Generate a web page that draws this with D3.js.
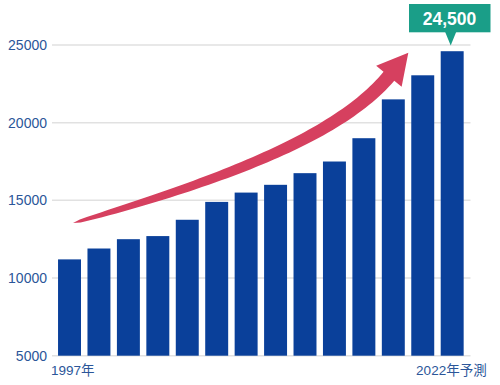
<!DOCTYPE html>
<html>
<head>
<meta charset="utf-8">
<script src="https://cdn.jsdelivr.net/npm/d3@7"></script>
<style>
body { margin: 0; background: #fff; }
text { font-family: "Liberation Sans", Arial, "Noto Sans CJK JP", sans-serif; }
</style>
</head>
<body>
<script>

var barValues = [11200, 11900, 12500, 12700, 13750, 14900, 15500, 16000, 16750, 17500, 19000, 21500, 23050, 24600];
var xLabels = ["1997年", "2022年予測"];
var yTicks = [5000, 10000, 15000, 20000, 25000];
var calloutText = "24,500";
// trend arrow, given as [bar index, value]: tail, two control points, end of shaft, tip
var arrowPoints = [[0.12, 13540], [5.0, 16180], [9.1, 19040], [10.85, 22985], [11.51, 24505]];

var width = 500;
var height = 385;

var svg = d3.select("body")
.append("svg")
.attr("width", width)
.attr("height", height);

var xScale = d3.scaleBand()
	.domain(d3.range(barValues.length))
	.range([54.8, 466.9])
	.paddingInner(0.22)
	.paddingOuter(0.11);

var yScale = d3.scaleLinear().domain([5000, 25000]).range([355.7, 45]);

// bar index -> centre of that bar, used for the arrow
var centreScale = d3.scaleLinear()
	.domain([0, barValues.length - 1])
	.range([xScale(0) + xScale.bandwidth() / 2, xScale(barValues.length - 1) + xScale.bandwidth() / 2]);

// gridlines
svg.selectAll(".grid")
	.data(yTicks)
	.enter()
	.append("line")
	.attr("x1", 52)
	.attr("x2", 470.5)
	.attr("y1", d => yScale(d))
	.attr("y2", d => yScale(d))
	.attr("stroke", "#e1e1e1")
	.attr("stroke-width", 1.5);

svg.selectAll(".ylabel")
	.data(yTicks)
	.enter()
	.append("text")
	.attr("x", 47)
	.attr("y", d => yScale(d))
	.attr("dy", "0.36em")
	.attr("text-anchor", "end")
	.attr("font-size", 14)
	.attr("fill", "#2b5699")
	.text(d => d);

svg.selectAll(".bar")
	.data(barValues)
	.enter()
	.append("rect")
	.attr("x", (d, i) => xScale(i))
	.attr("y", d => yScale(d))
	.attr("width", xScale.bandwidth())
	.attr("height", d => yScale(5000) - yScale(d))
	.attr("fill", "#0a409a");

// x labels, first and last only
svg.append("text")
	.attr("x", xScale(0) - 7)
	.attr("y", 375)
	.attr("font-size", 13.5)
	.attr("fill", "#2b5699")
	.text(xLabels[0]);

svg.append("text")
	.attr("x", xScale(barValues.length - 1) + xScale.bandwidth() + 23)
	.attr("y", 375)
	.attr("text-anchor", "end")
	.attr("font-size", 13.5)
	.attr("fill", "#2b5699")
	.text(xLabels[1]);

// arrow: tapered cubic curve + triangular head
var pts = arrowPoints.map(p => [centreScale(p[0]), yScale(p[1])]);
var bez = function(t) {
	var u = 1 - t;
	var a = u * u * u, b = 3 * u * u * t, c = 3 * u * t * t, e = t * t * t;
	return [a * pts[0][0] + b * pts[1][0] + c * pts[2][0] + e * pts[3][0],
		a * pts[0][1] + b * pts[1][1] + c * pts[2][1] + e * pts[3][1]];
}
var left = [], right = [];
var n = 60;
for (var i = 0; i <= n; i++) {
	var t = i / n;
	var p = bez(t);
	var q = bez(Math.min(1, t + 0.001));
	var r = bez(Math.max(0, t - 0.001));
	var dx = q[0] - r[0], dy = q[1] - r[1];
	var len = Math.sqrt(dx * dx + dy * dy);
	var nx = -dy / len, ny = dx / len;
	var w = 7 * Math.pow(t, 0.38);
	left.push([p[0] + nx * w, p[1] + ny * w]);
	right.push([p[0] - nx * w, p[1] - ny * w]);
}
var end = pts[3], tip = pts[4];
var hx = tip[0] - end[0], hy = tip[1] - end[1];
var hl = Math.sqrt(hx * hx + hy * hy);
var px = -hy / hl, py = hx / hl;
var shape = left.concat([
	[end[0] + px * 16.5, end[1] + py * 16.5],
	tip,
	[end[0] - px * 16.5, end[1] - py * 16.5]
], right.reverse());

svg.append("path")
	.attr("d", d3.line()(shape) + "Z")
	.attr("fill", "#d6405f");

// callout over the last bar
var cx = xScale(barValues.length - 1) + xScale.bandwidth() / 2 - 1.5;
svg.append("rect")
	.attr("x", 409)
	.attr("y", 4)
	.attr("width", 81.5)
	.attr("height", 28.3)
	.attr("fill", "#1a9e88");
svg.append("path")
	.attr("d", d3.line()([[cx - 5.5, 32], [cx + 5.5, 32], [cx, 45.5]]) + "Z")
	.attr("fill", "#1a9e88");
svg.append("text")
	.attr("x", 449.5)
	.attr("y", 25)
	.attr("text-anchor", "middle")
	.attr("font-size", 17.5)
	.attr("font-weight", "bold")
	.attr("fill", "#fff")
	.text(calloutText);

</script>
</body>
</html>
